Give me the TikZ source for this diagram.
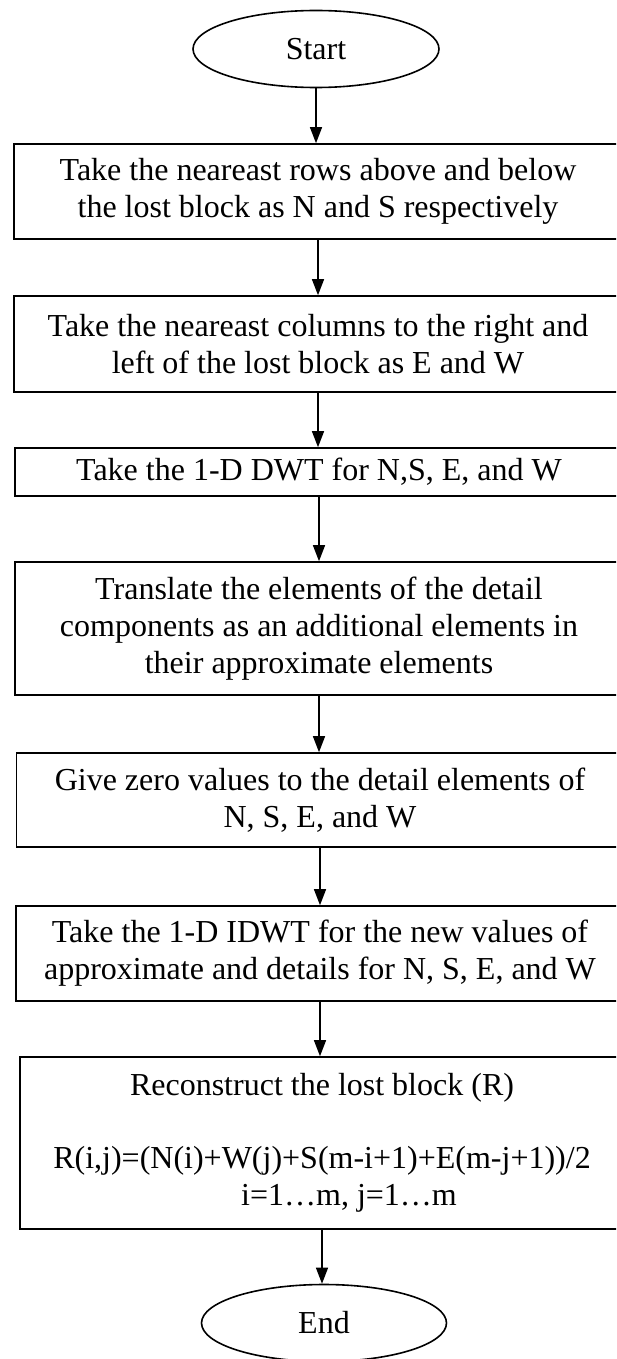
\documentclass[tikz,border=0pt]{standalone}
\usepackage{fontspec}
\setmainfont{Liberation Serif}
\usetikzlibrary{shapes.geometric,arrows.meta}
\begin{document}
\begin{tikzpicture}[x=1pt,y=-1pt,
  stepbox/.style={draw=black,line width=1.6pt,rectangle,inner sep=0pt,align=center,
    font=\fontsize{32}{37}\selectfont},
  term/.style={draw=black,line width=1.6pt,ellipse,inner sep=0pt,minimum width=246pt,minimum height=77pt,
    font=\fontsize{32}{37}\selectfont},
  flow/.style={draw=black,line width=1.3pt,-{Triangle[width=12pt,length=16pt]}}]
\useasboundingbox (0,0) rectangle (616,1359);
\clip (0,0) rectangle (616,1359);
\node[term] (start) at (316,49) {Start};
\node[stepbox,minimum width=608pt,minimum height=95pt] (b1) at (318,191.5)
  {Take the neareast rows above and below\\the lost block as N and S respectively};
\node[stepbox,minimum width=608pt,minimum height=96pt] (b2) at (318,344)
  {Take the neareast columns to the right and\\left of the lost block as E and W};
\node[stepbox,minimum width=608pt,minimum height=48pt] (b3) at (319,472)
  {Take the 1-D DWT for N,S, E, and W};
\node[stepbox,minimum width=608pt,minimum height=133pt] (b4) at (319,628.5)
  {Translate the elements of the detail\\components as an additional elements in\\their approximate elements};
\node[stepbox,minimum width=607pt,minimum height=94pt] (b5) at (320,800)
  {Give zero values to the detail elements of\\N, S, E, and W};
\node[stepbox,minimum width=608pt,minimum height=95pt] (b6) at (320,953.5)
  {Take the 1-D IDWT for the new values of\\approximate and details for N, S, E, and W};
\node[stepbox,minimum width=604pt,minimum height=172pt] (b7) at (322,1143)
  {Reconstruct the lost block (R)\\[36pt]R(i,j)=(N(i)+W(j)+S(m-i+1)+E(m-j+1))/2\\\hspace*{54pt}i=1\ldots m, j=1\ldots m};
\node[term,minimum width=245pt] (end) at (324,1323) {End};
\draw[flow] (start.south) -- (start.south |- b1.north);
\draw[flow] (b1.south) -- (b1.south |- b2.north);
\draw[flow] (b2.south) -- (b2.south |- b3.north);
\draw[flow] (b3.south) -- (b3.south |- b4.north);
\draw[flow] (b4.south) -- (b4.south |- b5.north);
\draw[flow] (b5.south) -- (b5.south |- b6.north);
\draw[flow] (b6.south) -- (b6.south |- b7.north);
\draw[flow] (b7.south) -- (b7.south |- end.north);
\end{tikzpicture}
\end{document}
